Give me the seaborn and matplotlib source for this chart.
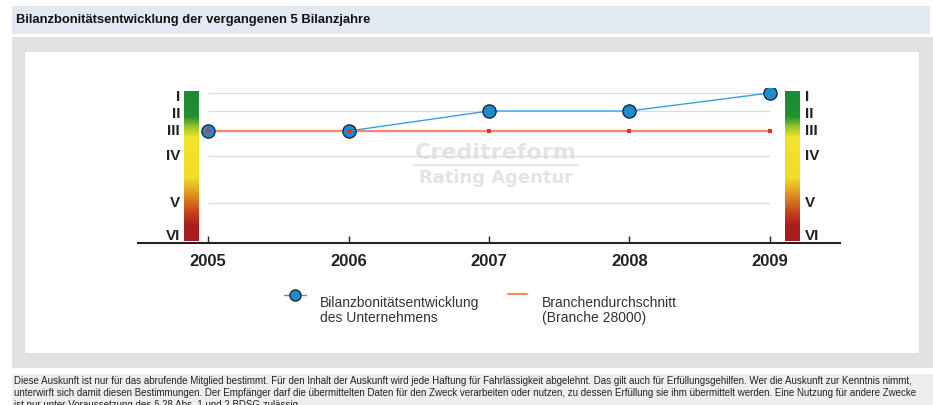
'''
    Bilanzbonitaet chart: company rating class vs. branch average, last 5 balance years
'''

# %% Settings
import numpy as np
import pandas as pd
import matplotlib
matplotlib.use('Agg')
import matplotlib.pyplot as plt
from matplotlib.colors import LinearSegmentedColormap
from matplotlib.patches import Rectangle
from matplotlib.lines import Line2D
import seaborn as sns

sns.set_style('white')
plt.rcParams['font.family'] = ['Liberation Sans', 'DejaVu Sans']

# Data
years = [2005, 2006, 2007, 2008, 2009]
company_class = ['III', 'III', 'II', 'II', 'I']
branch_class = ['III', 'III', 'III', 'III', 'III']
rating_classes = ['I', 'II', 'III', 'IV', 'V', 'VI']

title = 'Bilanzbonitätsentwicklung der vergangenen 5 Bilanzjahre'
label_company = 'Bilanzbonitätsentwicklung\ndes Unternehmens'
label_branch = 'Branchendurchschnitt\n(Branche 28000)'
footer_lines = [
    'Diese Auskunft ist nur für das abrufende Mitglied bestimmt. Für den Inhalt der Auskunft wird jede Haftung für '
    'Fahrlässigkeit abgelehnt. Das gilt auch für Erfüllungsgehilfen. Wer die Auskunft zur Kenntnis nimmt,',
    'unterwirft sich damit diesen Bestimmungen. Der Empfänger darf die übermittelten Daten für den Zweck verarbeiten '
    'oder nutzen, zu dessen Erfüllung sie ihm übermittelt werden. Eine Nutzung für andere Zwecke',
    'ist nur unter Voraussetzung des § 28 Abs. 1 und 2 BDSG zulässig.',
]

# Rating scale of the chart (not linear)
class_scale = dict(zip(rating_classes, [0, 18, 38, 63, 110, 143]))
# small shift of the class labels so they do not collide at the top
label_shift = {'I': 4, 'II': 3}

df = pd.DataFrame({'year': years,
                   'company': [class_scale[c] for c in company_class],
                   'branch': [class_scale[c] for c in branch_class]})

# %% Figure + background (pixel coordinates)
W, H = 933, 405
fig = plt.figure(figsize=(W / 100, H / 100), dpi=100)
bg = fig.add_axes([0, 0, 1, 1])
bg.set_xlim(0, W)
bg.set_ylim(H, 0)
bg.axis('off')

bg.add_patch(Rectangle((12, 6), 918, 28, color='#e2e9f3', lw=0))
bg.text(16, 20.5, title, fontsize=9.4, fontweight='bold', va='center', ha='left', color='#111111')
bg.add_patch(Rectangle((12, 37), 921, 331, color='#e1e1e1', lw=0))
bg.add_patch(Rectangle((25, 52), 894, 301, color='white', lw=0))
bg.add_patch(Rectangle((12, 374), 921, 31, color='#eeeeee', lw=0))
for i, line in enumerate(footer_lines):
    bg.text(14, 381 + 12 * i, line, fontsize=7.0, va='center', ha='left', color='#222222')

# Watermark
bg.text(496, 153, 'Creditreform', fontsize=16, fontweight='bold', color='#e4e4e4',
        ha='center', va='center', family=['DejaVu Sans'])
bg.plot([413, 578], [165, 165], color='#e4e4e4', lw=1.2)
bg.text(496, 178, 'Rating Agentur', fontsize=13, fontweight='bold', color='#e4e4e4',
        ha='center', va='center', family=['DejaVu Sans'])

# Legend (drawn by hand so the handles sit on the first text line)
bg.add_line(Line2D([284, 306], [295, 295], color='#3d9ee0', lw=1))
bg.add_line(Line2D([295], [295], marker='o', markersize=8, markerfacecolor='#1e8ccc',
                   markeredgecolor='#1a2a3a', markeredgewidth=1))
bg.text(320, 296, label_company, fontsize=10, va='top', ha='left', color='#333333', linespacing=1.05)
bg.add_line(Line2D([508, 527], [294, 294], color='#f28a6a', lw=1.5))
bg.text(542, 296, label_branch, fontsize=10, va='top', ha='left', color='#333333', linespacing=1.05)

# %% Main chart
x0, x1, ytop, yaxis = 138, 840, 88, 243
ax = fig.add_axes([x0 / W, (H - yaxis) / H, (x1 - x0) / W, (yaxis - ytop) / H])
ax.set_facecolor('none')

# horizontal guides between first and last year
ax.hlines([class_scale[c] for c in rating_classes[:5]], years[0], years[-1],
          color='#dcdcdc', lw=1, zorder=1)

sns.lineplot(data=df, x='year', y='company', color='#3d9ee0', lw=1, ax=ax, zorder=2)
sns.lineplot(data=df, x='year', y='branch', color='#f28a6a', lw=1.6, ax=ax, zorder=3)
sns.scatterplot(data=df, x='year', y='company', marker='o', s=90, color='#1e8ccc',
                edgecolor='#1a2a3a', linewidth=1, ax=ax, zorder=4)
sns.scatterplot(data=df, x='year', y='branch', marker='s', s=9, color='#e8331c',
                linewidth=0, ax=ax, zorder=5)

# colour scales left and right
cmap = LinearSegmentedColormap.from_list('bonitaet', [
    (0.0, '#1b8a30'), (0.17, '#229030'), (0.23, '#8cc22c'), (0.31, '#f2e42a'),
    (0.58, '#f0dc2a'), (0.70, '#de8a1e'), (0.82, '#c63c1e'), (0.90, '#aa1d1f'), (1.0, '#a81c1f')])
grad = np.linspace(0, 1, 256).reshape(-1, 1)
for left in (2004.828, 2009.11):
    ax.imshow(grad, cmap=cmap, aspect='auto', extent=(left, left + 0.1, 148, -2),
              origin='upper', zorder=1)

for c in rating_classes:
    yy = class_scale[c] + label_shift.get(c, 0)
    ax.text(2004.80, yy, c, fontsize=11, fontweight='bold', ha='right', va='center', color='#222222')
    ax.text(2009.25, yy, c, fontsize=11, fontweight='bold', ha='left', va='center', color='#222222')

ax.set_xlim(2004.5, 2009.5)
ax.set_ylim(150, -5)
ax.set_xticks(years)
ax.set_xticklabels([str(y) for y in years], fontsize=12, fontweight='bold', color='#222222')
ax.set_yticks([])
ax.set_xlabel('')
ax.set_ylabel('')
ax.tick_params(axis='x', direction='in', length=5, width=1, color='#222222', pad=8, bottom=True)
for side in ['top', 'right', 'left']:
    ax.spines[side].set_visible(False)
ax.spines['bottom'].set_color('#222222')
ax.spines['bottom'].set_linewidth(1.5)

plt.savefig('out.png', dpi=100)
